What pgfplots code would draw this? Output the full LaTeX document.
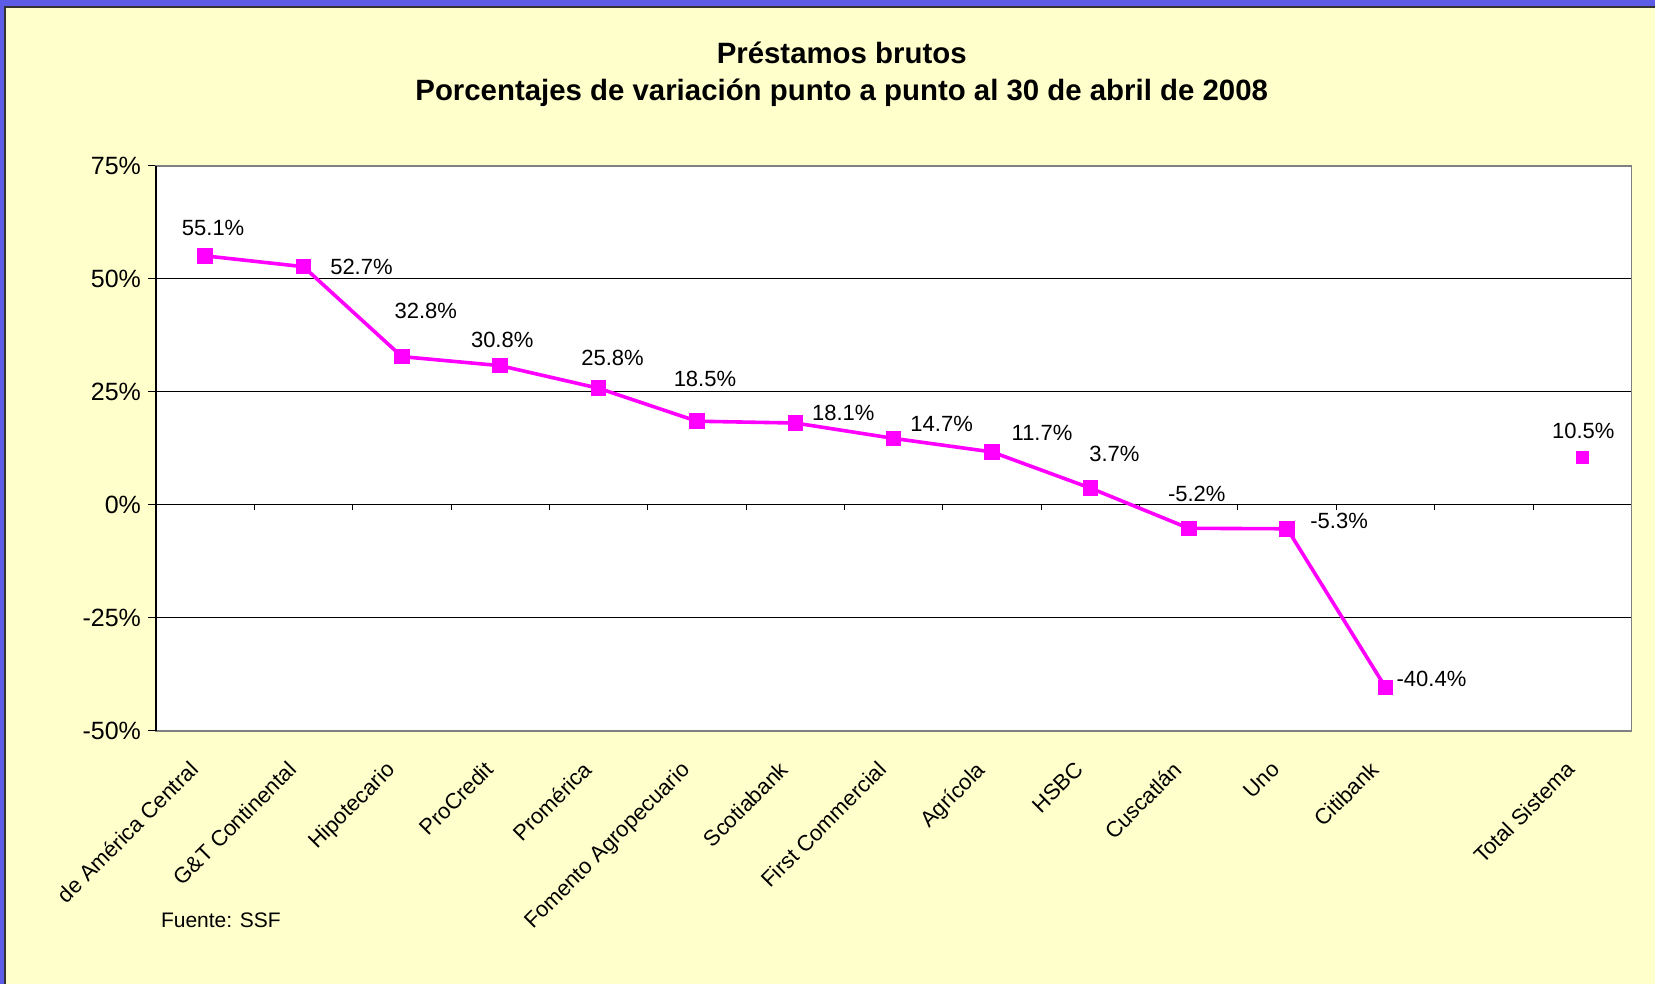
\documentclass[border=0pt]{standalone}
\usepackage{pgfplots}
\pgfplotsset{compat=1.18}
\usepackage{fontspec}
\setmainfont{Liberation Sans}

\definecolor{bgyellow}{RGB}{255,255,204}
\definecolor{frameblue}{RGB}{92,92,230}
\definecolor{serie}{RGB}{255,0,255}

\begin{document}
\begin{tikzpicture}
% slide background
\fill[frameblue] (0pt,0pt) rectangle (828pt,492pt);
\fill[bgyellow] (2.5pt,0pt) rectangle (828pt,488.5pt);
\draw[black!80, line width=0.6pt] (2.5pt,0pt) -- (2.5pt,488.5pt) -- (828pt,488.5pt);

\node[font=\bfseries\fontsize{14.7}{18.5}\selectfont, align=center] at (421pt,455pt)
  {Préstamos brutos\\Porcentajes de variación punto a punto al 30 de abril de 2008};
\node[anchor=west, font=\fontsize{10.5}{13}\selectfont] at (77pt,31.5pt) {Fuente: SSF};

\begin{axis}[
    at={(78pt,126.5pt)}, anchor=south west,
    width=738pt, height=282.5pt, scale only axis,
    xmin=-0.5, xmax=14.5, ymin=-50, ymax=75,
    ytick={-50,-25,0,25,50,75},
    yticklabels={-50\%,-25\%,0\%,25\%,50\%,75\%},
    xtick={0,...,14},
    xticklabels={de América Central,G\&T Continental,Hipotecario,ProCredit,Promérica,Fomento Agropecuario,Scotiabank,First Commercial,Agrícola,HSBC,Cuscatlán,Uno,Citibank,{},Total Sistema},
    xticklabel style={rotate=45, anchor=north east, font=\fontsize{11}{13}\selectfont, xshift=-10pt, yshift=2pt},
    yticklabel style={font=\fontsize{12.5}{14}\selectfont},
    xtick style={draw=none},
    ytick style={black, line width=0.5pt},
    ytick pos=left,
    tick align=outside, major tick length=4pt,
    ymajorgrids, grid style={black, line width=0.5pt},
    axis line style={gray, line width=0.8pt},
    axis background/.style={fill=white},
    clip=false,
]
% left value axis and category ticks on the zero line
\draw[black, line width=0.6pt] (rel axis cs:0,0) -- (rel axis cs:0,1);
\pgfplotsinvokeforeach{0.5,1.5,...,13.5}{
  \draw[black, line width=0.5pt] (axis cs:#1,0) -- ++(0pt,-2.5pt);
}

\addplot[serie, line width=1.8pt, mark=square*, mark size=3pt, mark options={solid}] coordinates {
  (0,55.1) (1,52.7) (2,32.8) (3,30.8) (4,25.8) (5,18.5) (6,18.1)
  (7,14.7) (8,11.7) (9,3.7) (10,-5.2) (11,-5.3) (12,-40.4)
};
\addplot[serie, only marks, mark=square*, mark size=3pt] coordinates {(14,10.5)};

\begin{scope}[every node/.style={font=\fontsize{11}{13}\selectfont}]
\node[xshift=4pt, yshift=14pt]   at (axis cs:0,55.1)  {55.1\%};
\node[xshift=29pt, yshift=0pt]   at (axis cs:1,52.7)  {52.7\%};
\node[xshift=12pt, yshift=23pt]  at (axis cs:2,32.8)  {32.8\%};
\node[xshift=1pt, yshift=13pt]   at (axis cs:3,30.8)  {30.8\%};
\node[xshift=7pt, yshift=15pt]   at (axis cs:4,25.8)  {25.8\%};
\node[xshift=4pt, yshift=21pt]   at (axis cs:5,18.5)  {18.5\%};
\node[xshift=24pt, yshift=5pt]   at (axis cs:6,18.1)  {18.1\%};
\node[xshift=24pt, yshift=7pt]   at (axis cs:7,14.7)  {14.7\%};
\node[xshift=25pt, yshift=9.5pt] at (axis cs:8,11.7)  {11.7\%};
\node[xshift=12pt, yshift=17pt]  at (axis cs:9,3.7)   {3.7\%};
\node[xshift=4pt, yshift=17pt]   at (axis cs:10,-5.2) {-5.2\%};
\node[xshift=26pt, yshift=4pt]   at (axis cs:11,-5.3) {-5.3\%};
\node[xshift=23pt, yshift=4pt]   at (axis cs:12,-40.4){-40.4\%};
\node[xshift=0.5pt, yshift=13pt] at (axis cs:14,10.5) {10.5\%};
\end{scope}
\end{axis}
\end{tikzpicture}
\end{document}
